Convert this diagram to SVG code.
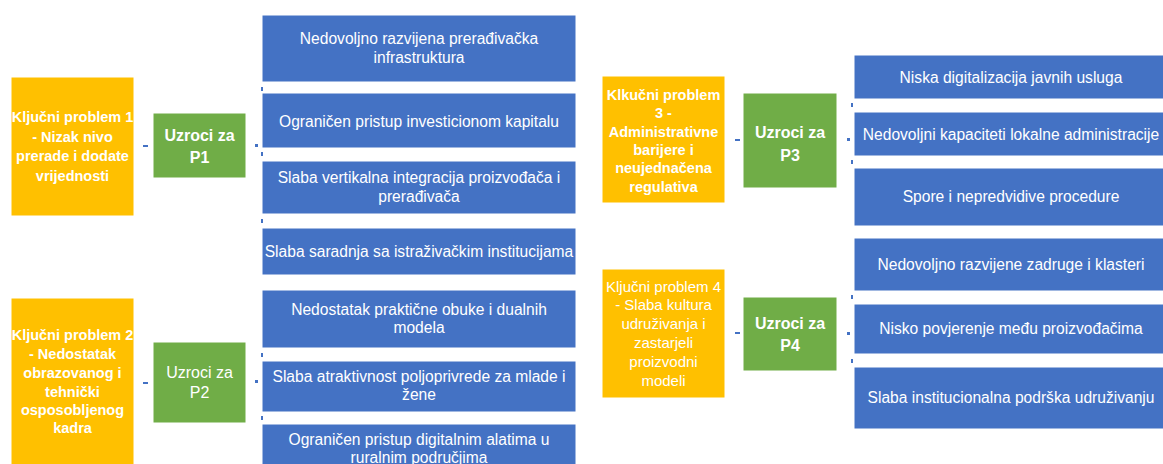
<svg xmlns="http://www.w3.org/2000/svg" width="1163" height="464" viewBox="0 0 1163 464">
<style>
.y{fill:#FFC000;stroke:#fff;stroke-width:1}
.g{fill:#70AD47;stroke:#fff;stroke-width:1}
.b{fill:#4472C4;stroke:#fff;stroke-width:1}
text{fill:#fff;font-family:"Liberation Sans",Arial,sans-serif;text-anchor:middle}
.ty{font-size:14.5px;font-weight:bold}
.tyr{font-size:15px}
.tg{font-size:16px;font-weight:bold}
.tgr{font-size:16px}
.tb{font-size:15.6px}
.c{stroke:#4472C4;stroke-width:2;fill:none}
.d{fill:#4472C4}
</style>
<rect width="1163" height="464" fill="#fff"/>
<g id="connectors">
<line class="c" x1="143" y1="146" x2="148" y2="146"/>
<rect class="d" x="255" y="144" width="3" height="3"/>
<line class="c" x1="262" y1="87" x2="262" y2="91"/>
<line class="c" x1="262" y1="152" x2="262" y2="156"/>
<line class="c" x1="262" y1="219" x2="262" y2="223"/>
<line class="c" x1="143" y1="383" x2="148" y2="383"/>
<rect class="d" x="255" y="380" width="3" height="3"/>
<line class="c" x1="262" y1="353" x2="262" y2="357"/>
<line class="c" x1="262" y1="416" x2="262" y2="420"/>
<line class="c" x1="735" y1="140" x2="740" y2="140"/>
<rect class="d" x="847" y="138" width="3" height="3"/>
<line class="c" x1="852" y1="103" x2="852" y2="107"/>
<line class="c" x1="852" y1="160" x2="852" y2="164"/>
<line class="c" x1="735" y1="333" x2="740" y2="333"/>
<rect class="d" x="847" y="332" width="3" height="3"/>
<line class="c" x1="852" y1="295" x2="852" y2="299"/>
<line class="c" x1="852" y1="359" x2="852" y2="363"/>
</g>
<g id="p1">
<rect class="y" x="11" y="77" width="123" height="139"/>
<text class="ty" x="72.5" y="122">Ključni problem 1</text>
<text class="ty" x="72.5" y="142">- Nizak nivo</text>
<text class="ty" x="72.5" y="161">prerade i dodate</text>
<text class="ty" x="72.5" y="181">vrijednosti</text>
</g>
<g id="u1">
<rect class="g" x="153" y="113" width="93" height="65"/>
<text class="tg" x="199.5" y="141">Uzroci za</text>
<text class="tg" x="199.5" y="163">P1</text>
</g>
<g id="c1a"><rect class="b" x="262" y="15" width="314" height="67"/>
<text class="tb" x="419" y="44">Nedovoljno razvijena prerađivačka</text>
<text class="tb" x="419" y="63">infrastruktura</text></g>
<g id="c1b"><rect class="b" x="262" y="93" width="314" height="55"/>
<text class="tb" x="419" y="127">Ograničen pristup investicionom kapitalu</text></g>
<g id="c1c"><rect class="b" x="262" y="161" width="314" height="53"/>
<text class="tb" x="419" y="183">Slaba vertikalna integracija proizvođača i</text>
<text class="tb" x="419" y="202">prerađivača</text></g>
<g id="c1d"><rect class="b" x="262" y="228" width="314" height="47"/>
<text class="tb" x="419" y="257">Slaba saradnja sa istraživačkim institucijama</text></g>

<g id="p2">
<rect class="y" x="11" y="298" width="123" height="168"/>
<text class="ty" x="72.5" y="340">Ključni problem 2</text>
<text class="ty" x="72.5" y="359">- Nedostatak</text>
<text class="ty" x="72.5" y="378">obrazovanog i</text>
<text class="ty" x="72.5" y="397">tehnički</text>
<text class="ty" x="72.5" y="415">osposobljenog</text>
<text class="ty" x="72.5" y="433">kadra</text>
</g>
<g id="u2">
<rect class="g" x="153" y="342" width="93" height="81"/>
<text class="tgr" x="199.5" y="378">Uzroci za</text>
<text class="tgr" x="199.5" y="398">P2</text>
</g>
<g id="c2a"><rect class="b" x="262" y="290" width="314" height="58"/>
<text class="tb" x="419" y="315">Nedostatak praktične obuke i dualnih</text>
<text class="tb" x="419" y="333">modela</text></g>
<g id="c2b"><rect class="b" x="262" y="361" width="314" height="51"/>
<text class="tb" x="419" y="382">Slaba atraktivnost poljoprivrede za mlade i</text>
<text class="tb" x="419" y="400">žene</text></g>
<g id="c2c"><rect class="b" x="262" y="424" width="314" height="50"/>
<text class="tb" x="419" y="445">Ograničen pristup digitalnim alatima u</text>
<text class="tb" x="419" y="463">ruralnim područjima</text></g>

<g id="p3">
<rect class="y" x="602" y="76" width="123" height="127"/>
<text class="ty" x="663.5" y="100">Klkučni problem</text>
<text class="ty" x="663.5" y="118">3 -</text>
<text class="ty" x="663.5" y="137">Administrativne</text>
<text class="ty" x="663.5" y="155">barijere i</text>
<text class="ty" x="663.5" y="173">neujednačena</text>
<text class="ty" x="663.5" y="192">regulativa</text>
</g>
<g id="u3">
<rect class="g" x="743" y="93" width="94" height="95"/>
<text class="tg" x="790" y="138">Uzroci za</text>
<text class="tg" x="790" y="161">P3</text>
</g>
<g id="c3a"><rect class="b" x="854" y="55" width="314" height="44"/>
<text class="tb" x="1011" y="83">Niska digitalizacija javnih usluga</text></g>
<g id="c3b"><rect class="b" x="854" y="112" width="314" height="44"/>
<text class="tb" x="1011" y="140">Nedovoljni kapaciteti lokalne administracije</text></g>
<g id="c3c"><rect class="b" x="854" y="168" width="314" height="58"/>
<text class="tb" x="1011" y="202">Spore i nepredvidive procedure</text></g>

<g id="p4">
<rect class="y" x="602" y="269" width="123" height="129"/>
<text class="tyr" x="663.5" y="292">Ključni problem 4</text>
<text class="tyr" x="663.5" y="310">- Slaba kultura</text>
<text class="tyr" x="663.5" y="329">udruživanja i</text>
<text class="tyr" x="663.5" y="348">zastarjeli</text>
<text class="tyr" x="663.5" y="367">proizvodni</text>
<text class="tyr" x="663.5" y="386">modeli</text>
</g>
<g id="u4">
<rect class="g" x="743" y="297" width="94" height="74"/>
<text class="tg" x="790" y="329">Uzroci za</text>
<text class="tg" x="790" y="351">P4</text>
</g>
<g id="c4a"><rect class="b" x="854" y="238" width="314" height="53"/>
<text class="tb" x="1011" y="270">Nedovoljno razvijene zadruge i klasteri</text></g>
<g id="c4b"><rect class="b" x="854" y="304" width="314" height="50"/>
<text class="tb" x="1011" y="334">Nisko povjerenje među proizvođačima</text></g>
<g id="c4c"><rect class="b" x="854" y="367" width="314" height="62"/>
<text class="tb" x="1011" y="403">Slaba institucionalna podrška udruživanju</text></g>
</svg>
